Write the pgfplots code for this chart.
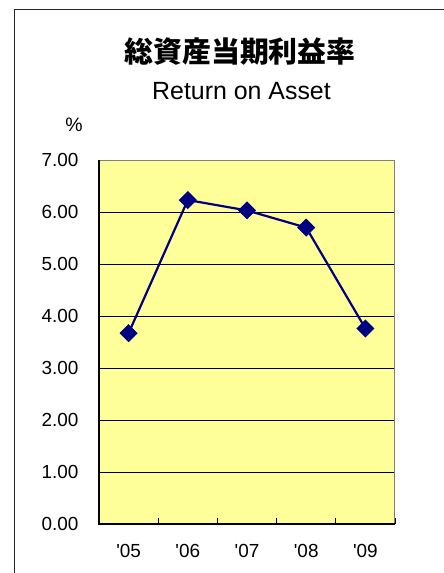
\documentclass[border=0pt]{standalone}
\usepackage{fontspec}
\setmainfont{Liberation Sans}
\newfontfamily\arial{Liberation Sans}
\newfontfamily\cjk{Noto Sans CJK JP Black}
\usepackage{pgfplots}
\pgfplotsset{compat=1.18}
\definecolor{plotbg}{HTML}{FFFF99}
\definecolor{navy}{HTML}{000080}
\begin{document}
\begin{tikzpicture}
\useasboundingbox (-99bp,-49bp) rectangle (345bp,524bp);
\fill[white] (-99bp,-49bp) rectangle (345bp,524bp);
\draw[line width=1bp, black!85] (-84bp,-49bp) -- (-84bp,514bp) -- (345bp,514bp);
\begin{axis}[
  at={(0,0)}, anchor=south west,
  scale only axis, width=296bp, height=364bp,
  xmin=-0.5, xmax=4.5, ymin=0, ymax=7,
  axis background/.style={fill=plotbg},
  axis line style={draw=gray, line width=1bp},
  xtick={-0.5,0.5,1.5,2.5,3.5,4.5},
  x tick label as interval,
  xticklabels={{\arial\symbol{39}05},{\arial\symbol{39}06},{\arial\symbol{39}07},{\arial\symbol{39}08},{\arial\symbol{39}09}},
  ytick={0,1,...,7},
  /pgf/number format/fixed,
  /pgf/number format/fixed zerofill,
  /pgf/number format/precision=2,
  /pgf/number format/assume math mode=true,
  tick label style={font=\arial\fontsize{19}{19}\selectfont, text=black},
  yticklabel style={xshift=-17bp},
  xticklabel style={yshift=-17bp},
  tick align=inside,
  major tick length=6bp,
  tick style={black, line width=0.8bp},
  ymajorgrids,
  grid style={black, line width=0.8bp},
  xtick pos=bottom, ytick pos=left,
  clip=false,
]
\addplot[navy, line width=2.2bp, mark=square*, mark size=5.3bp, mark options={rotate=45, fill=navy}]
  coordinates {(0,3.67) (1,6.23) (2,6.03) (3,5.70) (4,3.76)};
\draw[black, line width=1.2bp] (rel axis cs:0,1) -- (rel axis cs:0,0) -- (rel axis cs:1,0);
\end{axis}
\node[font=\cjk\fontsize{29}{29}\selectfont] at (141bp,472bp) {総資産当期利益率};
\node[font=\arial\fontsize{25}{25}\selectfont] at (142.5bp,433bp) {Return on Asset};
\node[font=\arial\fontsize{19.5}{19.5}\selectfont] at (-25bp,399.5bp) {\%};
\end{tikzpicture}
\end{document}
